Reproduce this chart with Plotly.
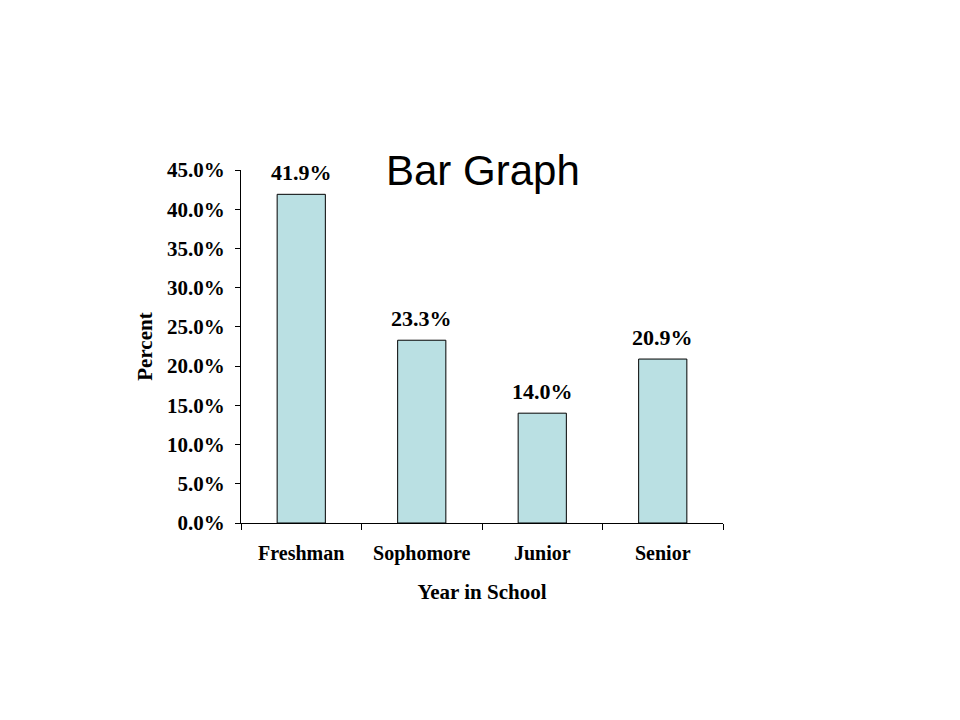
import plotly.graph_objects as go

categories = ["Freshman", "Sophomore", "Junior", "Senior"]
percents = [41.9, 23.3, 14.0, 20.9]
y_ticks = [0, 5, 10, 15, 20, 25, 30, 35, 40, 45]
y_tick_labels = [f"{v:.1f}%" for v in y_ticks]

serif = "Liberation Serif, Times New Roman, serif"

fig = go.Figure(go.Bar(
    x=categories,
    y=percents,
    width=0.4,
    marker=dict(color="#BAE0E3", line=dict(color="black", width=1)),
    cliponaxis=False,
))

annotations = [dict(
    text="Bar Graph", xref="paper", yref="paper",
    x=(384 - 241) / (723 - 241), y=1.0, xanchor="left", yanchor="middle",
    showarrow=False,
    font=dict(family="Liberation Sans, Arial, sans-serif", size=42, color="black"),
)]
for c, v in zip(categories, percents):
    annotations.append(dict(
        text=f"<b>{v:.1f}%</b>", x=c, y=v, xref="x", yref="y",
        xanchor="center", yanchor="bottom", yshift=7, showarrow=False,
        font=dict(family=serif, size=22, color="black"),
    ))

# page body has an 8px margin, so offsets are reduced by 8
fig.update_layout(
    width=960, height=720,
    paper_bgcolor="white", plot_bgcolor="white",
    margin=dict(l=233, r=245, t=162, b=205, autoexpand=False),
    showlegend=False,
    font=dict(family=serif, color="black"),
    annotations=annotations,
)

fig.update_xaxes(
    type="category",
    tickson="boundaries",
    tickvals=categories,
    ticktext=[f"<b>{c}</b>" for c in categories],
    ticks="outside", ticklen=6, tickcolor="black", tickwidth=1,
    showline=True, linecolor="black", linewidth=1,
    showgrid=False, zeroline=False,
    tickfont=dict(family=serif, size=20, color="black"),
    ticklabelstandoff=12,
    title=dict(text="<b>Year in School</b>", font=dict(family=serif, size=21, color="black"), standoff=20),
)

fig.update_yaxes(
    range=[0, 45],
    tickvals=y_ticks,
    ticktext=[f"<b>{t}</b>" for t in y_tick_labels],
    ticks="outside", ticklen=5, tickcolor="black", tickwidth=1,
    showline=True, linecolor="black", linewidth=1,
    showgrid=False, zeroline=False,
    tickfont=dict(family=serif, size=21, color="black"),
    ticklabelstandoff=6,
    title=dict(text="<b>Percent</b>", font=dict(family=serif, size=21, color="black"), standoff=8),
)

fig.write_html("out.html")
